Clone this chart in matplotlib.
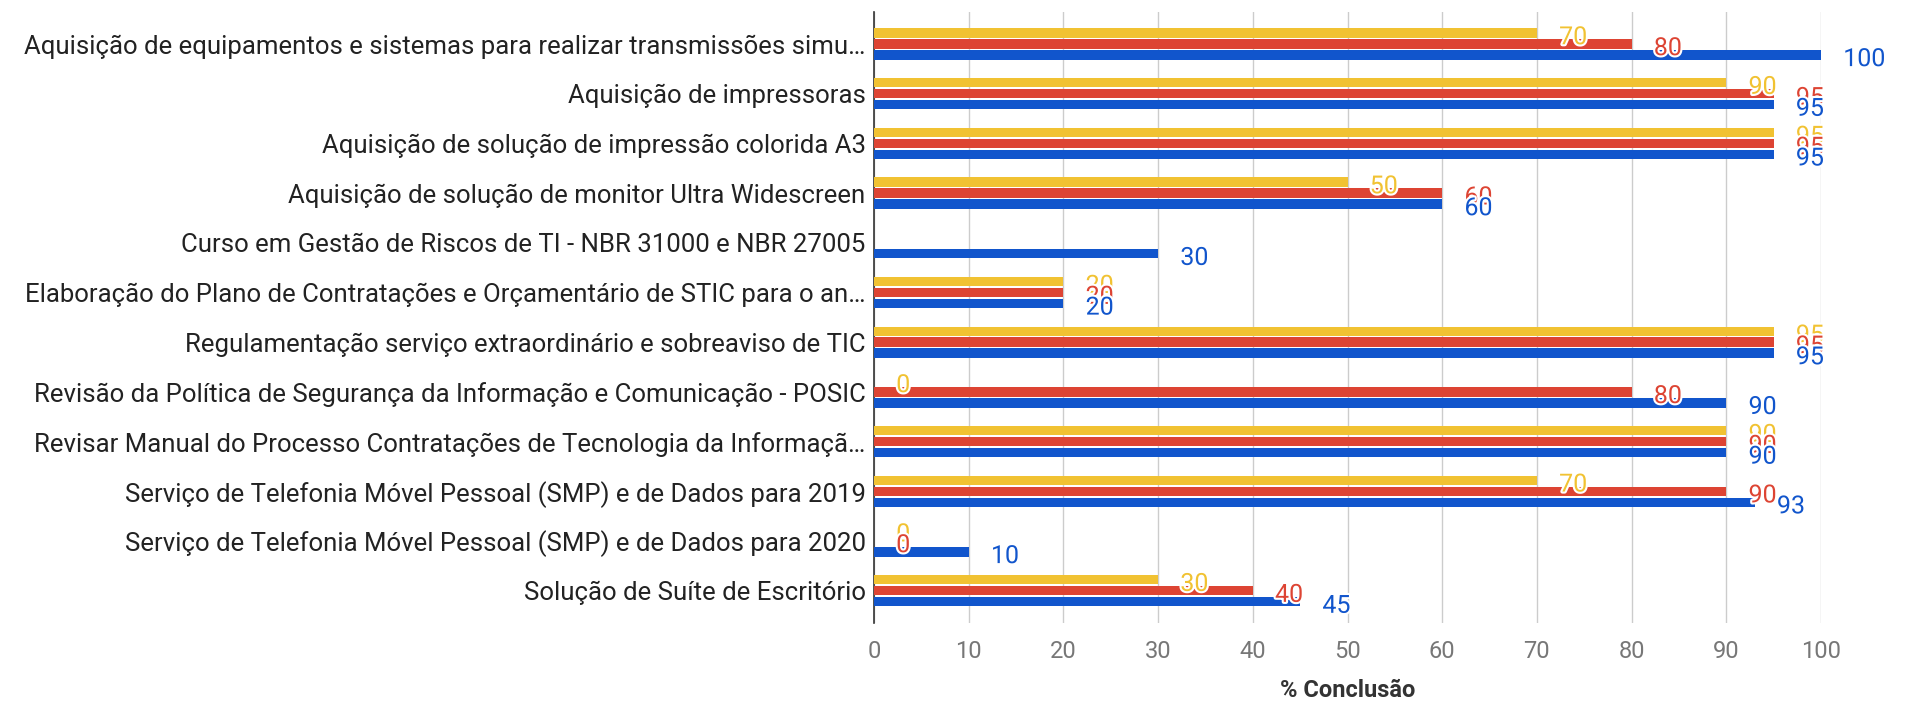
import numpy as np
import matplotlib
matplotlib.use("Agg")
import matplotlib.pyplot as plt
import matplotlib.patheffects as pe

categories = [
    "Aquisição de equipamentos e sistemas para realizar transmissões simu…",
    "Aquisição de impressoras",
    "Aquisição de solução de impressão colorida A3",
    "Aquisição de solução de monitor Ultra Widescreen",
    "Curso em Gestão de Riscos de TI - NBR 31000 e NBR 27005",
    "Elaboração do Plano de Contratações e Orçamentário de STIC para o an…",
    "Regulamentação serviço extraordinário e sobreaviso de TIC",
    "Revisão da Política de Segurança da Informação e Comunicação - POSIC",
    "Revisar Manual do Processo Contratações de Tecnologia da Informaçã…",
    "Serviço de Telefonia Móvel Pessoal (SMP) e de Dados para 2019",
    "Serviço de Telefonia Móvel Pessoal (SMP) e de Dados para 2020",
    "Solução de Suíte de Escritório",
]
series_yellow = [70, 90, 95, 50, np.nan, 20, 95, 0, 90, 70, 0, 30]
series_red = [80, 95, 95, 60, np.nan, 20, 95, 80, 90, 90, 0, 40]
series_blue = [100, 95, 95, 60, 30, 20, 95, 90, 90, 93, 10, 45]
x_ticks = [0, 10, 20, 30, 40, 50, 60, 70, 80, 90, 100]
x_label = "% Conclusão"

colors = ["#F1C232", "#DD4433", "#1155CC"]
series = [series_yellow, series_red, series_blue]
offsets = [-0.22, 0.0, 0.22]

plt.rcParams['font.family'] = ['Roboto', 'DejaVu Sans']
fig = plt.figure(figsize=(19.08, 7.03), dpi=100)
ax = fig.add_axes([874/1908, 1-623/703, (1821-874)/1908, (623-12)/703])

y = np.arange(len(categories))
for vals, col, off in zip(series, colors, offsets):
    vals = np.array(vals, dtype=float)
    mask = ~np.isnan(vals)
    ax.barh(y[mask] + off, vals[mask], height=0.19, color=col,
            linewidth=0, zorder=3)
    for yi, v in zip(y[mask] + off, vals[mask]):
        t = ax.annotate(f"{v:g}", (v, yi), xytext=(16, -3), textcoords='offset points',
                        va='center', ha='left', color=col, fontsize=18, zorder=5)
        t.set_path_effects([pe.withStroke(linewidth=3, foreground='white')])

ax.set_xlim(0, 100)
ax.set_ylim(11.65, -0.644)
ax.set_xticks(x_ticks)
ax.set_xticklabels([str(v) for v in x_ticks], color='#777777', fontsize=17)
ax.set_yticks(y)
ax.set_yticklabels(categories, color='#222222', fontsize=18.5)
ax.tick_params(axis='y', length=0, pad=6)
ax.tick_params(axis='x', length=0, pad=12)
ax.grid(axis='x', color='#CCCCCC', linewidth=1, zorder=0)
ax.set_axisbelow(True)
for s in ['top', 'right', 'bottom']:
    ax.spines[s].set_visible(False)
ax.spines['left'].set_color('#333333')
ax.spines['left'].set_linewidth(1.2)
ax.set_xlabel(x_label, fontsize=17, fontweight='bold', color='#333333', labelpad=12)

fig.savefig("out.png", dpi=100)
